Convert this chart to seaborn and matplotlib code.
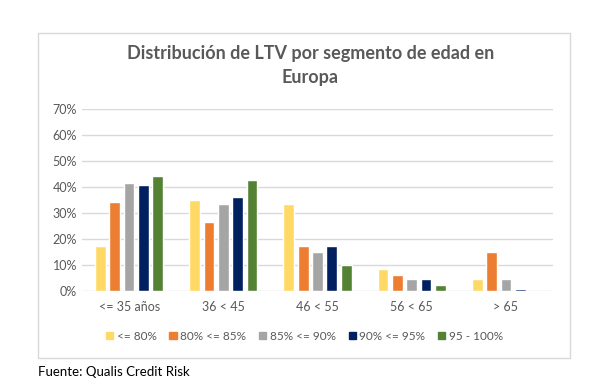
import numpy as np
import pandas as pd
import matplotlib.pyplot as plt
import seaborn as sns
from matplotlib.patches import Rectangle

# Data
segmentos = ['<= 35 años', '36 < 45', '46 < 55', '56 < 65', '> 65']
ltv_tramos = ['<= 80%', '80% <= 85%', '85% <= 90%', '90% <= 95%', '95 - 100%']
ltv_80 = [0.175, 0.351, 0.334, 0.086, 0.048]
ltv_85 = [0.342, 0.265, 0.175, 0.062, 0.150]
ltv_90 = [0.414, 0.334, 0.150, 0.048, 0.048]
ltv_95 = [0.406, 0.360, 0.175, 0.048, 0.008]
ltv_100 = [0.444, 0.428, 0.099, 0.022, 0.0]
colores = ['#FFD966', '#ED7D31', '#A5A5A5', '#002060', '#548235']

valores = [ltv_80, ltv_85, ltv_90, ltv_95, ltv_100]
rows = []
for tramo, serie in zip(ltv_tramos, valores):
    for seg, v in zip(segmentos, serie):
        rows.append({'segmento': seg, 'tramo': tramo, 'valor': v})
df = pd.DataFrame(rows)

sns.set_style('white')
plt.rcParams['font.family'] = ['Lato', 'DejaVu Sans']

fig = plt.figure(figsize=(5.97, 3.83), dpi=100)
fig.patch.set_facecolor('white')

# outer chart frame
fig.patches.append(Rectangle((38/597, 1-358/383), 532/597, 325/383,
                             transform=fig.transFigure, fill=False,
                             edgecolor='#D9D9D9', linewidth=1))

ax = fig.add_axes([82/597, 92/383, 471/597, 182/383])
sns.barplot(data=df, x='segmento', y='valor', hue='tramo', order=segmentos,
            hue_order=ltv_tramos, palette=colores, width=0.76, ax=ax,
            legend=False, saturation=1)

# narrow the bars a bit to leave gaps between them
for p in ax.patches:
    w = p.get_width()
    p.set_x(p.get_x() + w * 0.125)
    p.set_width(w * 0.75)

ax.set_ylim(0, 0.70)
ax.set_xlim(-0.5, 4.5)
ax.set_yticks(np.arange(0, 0.71, 0.1))
ax.set_yticklabels([f'{int(round(t*100))}%' for t in np.arange(0, 0.71, 0.1)])
ax.yaxis.grid(True, color='#D9D9D9', linewidth=1)
ax.set_axisbelow(True)
for s in ax.spines.values():
    s.set_visible(False)
ax.tick_params(axis='both', colors='#595959', labelsize=9, length=0)
ax.tick_params(axis='x', pad=7)
ax.set_xlabel('')
ax.set_ylabel('')

fig.text(0.52, 1-53/383, 'Distribución de LTV por segmento de edad en',
         ha='center', va='center', fontsize=13, fontweight='bold', color='#595959')
fig.text(0.52, 1-78/383, 'Europa', ha='center', va='center',
         fontsize=13, fontweight='bold', color='#595959')

handles = [Rectangle((0, 0), 1, 1, color=c) for c in colores]
fig.legend(handles, ltv_tramos, loc='center', bbox_to_anchor=(0.51, 1-336/383),
           ncol=5, frameon=False, fontsize=8.5, handlelength=0.6, handleheight=0.6,
           handletextpad=0.3, columnspacing=1.1, labelcolor='#595959')

fig.text(38/597, 1-372/383, 'Fuente: Qualis Credit Risk', ha='left', va='center',
         fontsize=9.5, color='black')

fig.savefig('out.png', dpi=100)
